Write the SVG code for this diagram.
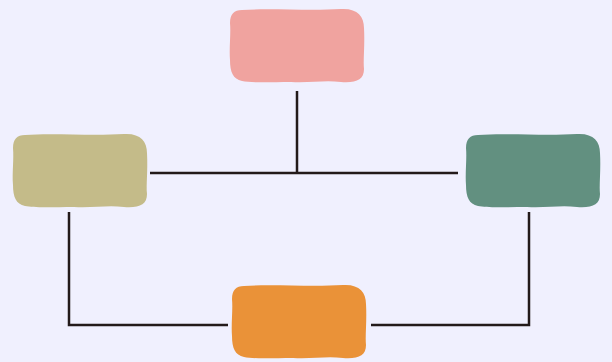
<svg xmlns="http://www.w3.org/2000/svg" width="612" height="362" viewBox="0 0 612 362">
<defs>
<style>
.edge{fill:none;stroke:#231a1a;stroke-width:2.5}
.blob{stroke:none}
</style>
<path id="b" d="M13,2 C40,0 80,3 112,1 C128,0 135,8 135,20 C136,38 134,52 135,61 C135,72 127,75 112,74 C95,72 82,75 62,74 C42,74 22,75 13,73 C4,71 1,64 1,52 C0,40 2,26 1,15 C1,6 5,2 13,2 Z"/>
</defs>
<rect width="612" height="362" fill="#f0f0fe"/>
<g id="connectors">
<path class="edge" d="M297,91 V173"/>
<path class="edge" d="M150,173 H458"/>
<path class="edge" d="M69,212 V325 H228"/>
<path class="edge" d="M529,212 V325 H371"/>
</g>
<g id="node-top"><use href="#b" transform="translate(229,8)" fill="#f0a39f"/></g>
<g id="node-left"><use href="#b" transform="translate(12,133)" fill="#c4bb89"/></g>
<g id="node-right"><use href="#b" transform="translate(465,133)" fill="#629080"/></g>
<g id="node-bottom"><use href="#b" transform="translate(231,284)" fill="#ea9238"/></g>
</svg>
